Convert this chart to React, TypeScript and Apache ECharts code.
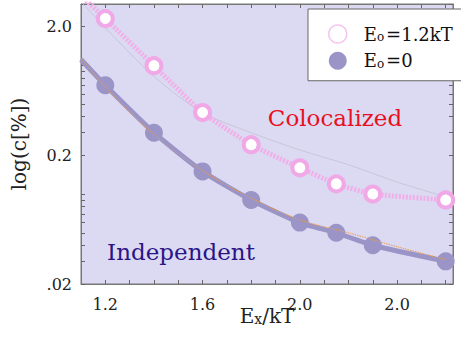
import React, { useEffect, useRef } from "react";
import * as echarts from "echarts";

const xValues = [1.2, 1.4, 1.6, 1.8, 2.0, 2.15, 2.3, 2.6];
const colocalized = [2.31, 0.995, 0.43, 0.242, 0.16, 0.12, 0.1, 0.09];
const independent = [0.7, 0.3, 0.15, 0.09, 0.06, 0.05, 0.04, 0.03];
const edgeX = 1.1;
const colocEdge = 3.5;
const indepEdge = 1.11;
const fitX = [1.1, 1.2, 1.4, 1.6, 1.8, 2.0, 2.2, 2.4, 2.6];
const colocFit = [3.13, 1.96, 0.82, 0.43, 0.3, 0.22, 0.169, 0.124, 0.095];
const indepFit = [1.14, 0.68, 0.29, 0.152, 0.093, 0.063, 0.05, 0.039, 0.031];

const xTickValues = [1.2, 1.6, 2.0, 2.4];
const xTickLabels = ["1.2", "1.6", "2.0", "2.0"];
const xMinorTicks = [1.2, 1.3, 1.4, 1.5, 1.6, 1.7, 1.8, 1.9, 2.0, 2.1, 2.2, 2.3, 2.4, 2.5, 2.6];
const yTickValues = [0.02, 0.2, 2];
const yTickLabels = [".02", "0.2", "2.0"];
const yMinorTicks = [0.02, 0.03, 0.04, 0.05, 0.06, 0.07, 0.08, 0.09, 0.1, 0.2, 0.3, 0.4, 0.5, 0.6, 0.7, 0.8, 0.9, 1, 2, 3];

const SERIF = "DejaVu Serif";
const PINK = "#f0a8e6";
const PURPLE = "#9a95c6";

export default function App() {
  const ref = useRef<HTMLDivElement>(null);
  useEffect(() => {
    document.body.style.margin = "0";
    if (!ref.current) return;
    const chart = echarts.init(ref.current, null, { renderer: "svg" });
    const axisLine = { show: true, lineStyle: { color: "#777", width: 1 } };
    const tickStyle = { inside: true, length: 4, lineStyle: { color: "#666" } };
    const option: any = {
      animation: false,
      backgroundColor: "#ffffff",
      textStyle: { fontFamily: SERIF },
      grid: {
        left: 81,
        right: 8,
        top: 4,
        bottom: 54,
        containLabel: false,
        outerBoundsMode: "none",
        show: true,
        backgroundColor: "#dcdaf2",
        borderColor: "#777",
        borderWidth: 1,
      },
      legend: {
        left: 308,
        top: 9,
        orient: "vertical",
        backgroundColor: "#ffffff",
        borderColor: "#666",
        borderWidth: 1,
        padding: [13, 40, 11, 20],
        itemGap: 5,
        itemWidth: 18,
        itemHeight: 18,
        data: [
          { name: "coloc", icon: "circle", itemStyle: { color: "#ffffff", borderColor: "#f4c4ee", borderWidth: 1.5 } },
          { name: "indep", icon: "circle", itemStyle: { color: PURPLE, borderWidth: 0 } },
        ],
        formatter: (name: string) =>
          name === "coloc" ? "{e|E}{s|o}{e|=1.2kT}" : "{e|E}{s|o}{e|=0}",
        textStyle: {
          fontFamily: SERIF,
          padding: [0, 0, 0, 12],
          rich: {
            e: { fontFamily: SERIF, fontSize: 18, color: "#111", lineHeight: 18, verticalAlign: "top" },
            s: { fontFamily: SERIF, fontSize: 12, color: "#111", lineHeight: 12, verticalAlign: "bottom", padding: [9, 2, 0, 0] },
          },
        },
      },
      xAxis: [
        {
          type: "value",
          min: 1.1,
          max: 2.63,
          position: "bottom",
          axisLine,
          splitLine: { show: false },
          axisTick: { ...tickStyle, customValues: xMinorTicks },
          axisLabel: {
            customValues: xTickValues,
            formatter: (v: number) => {
              const i = xTickValues.findIndex((t) => Math.abs(t - v) < 1e-6);
              return i >= 0 ? xTickLabels[i] : "";
            },
            fontFamily: SERIF,
            fontSize: 16,
            color: "#222",
            margin: 12,
          },
          name: "{e|E}{s|x}{e|/kT}",
          nameLocation: "middle",
          nameGap: 22,
          nameMoveOverlap: false,
          nameTextStyle: {
            fontFamily: SERIF,
            rich: {
              e: { fontFamily: SERIF, fontSize: 20, color: "#222", lineHeight: 20, verticalAlign: "top" },
              s: { fontFamily: SERIF, fontSize: 14, color: "#222", lineHeight: 14, verticalAlign: "bottom", padding: [12, 0, 0, 0] },
            },
          },
        },
        {
          type: "value",
          min: 1.1,
          max: 2.63,
          position: "top",
          axisLine,
          splitLine: { show: false },
          axisTick: { ...tickStyle, customValues: xMinorTicks },
          axisLabel: { show: false },
        },
      ],
      yAxis: [
        {
          type: "log",
          logBase: 10,
          min: 0.02,
          max: 3.0,
          position: "left",
          axisLine,
          splitLine: { show: false },
          axisTick: { ...tickStyle, customValues: yMinorTicks },
          axisLabel: {
            customValues: yTickValues,
            formatter: (v: number) => {
              const i = yTickValues.findIndex((t) => Math.abs(t - v) / t < 1e-6);
              return i >= 0 ? yTickLabels[i] : "";
            },
            fontFamily: SERIF,
            fontSize: 16,
            color: "#222",
            margin: 9,
          },
          name: "log(c[%])",
          nameLocation: "middle",
          nameGap: 52,
          nameMoveOverlap: false,
          nameTextStyle: { fontFamily: SERIF, fontSize: 20, color: "#222" },
        },
        {
          type: "log",
          logBase: 10,
          min: 0.02,
          max: 3.0,
          position: "right",
          axisLine,
          splitLine: { show: false },
          axisTick: { ...tickStyle, customValues: yMinorTicks },
          axisLabel: { show: false },
        },
      ],
      series: [
        {
          name: "colocFit",
          type: "line",
          data: fitX.map((x, i) => [x, colocFit[i]]),
          showSymbol: false,
          symbol: "none",
          smooth: 0.3,
          lineStyle: { color: "#c8c5d8", width: 1 },
          silent: true,
          z: 1,
        },
        {
          name: "coloc",
          type: "line",
          data: [
            { value: [edgeX, colocEdge], symbol: "none" },
            ...xValues.map((x, i) => [x, colocalized[i]]),
          ],
          symbol: "circle",
          symbolSize: 15,
          smooth: 0.15,
          itemStyle: { color: "#ffffff", borderColor: PINK, borderWidth: 4 },
          lineStyle: { color: "#f2aee8", width: 5, type: [2, 1.5] },
          z: 3,
        },
        {
          name: "indep",
          type: "line",
          data: [
            { value: [edgeX, indepEdge], symbol: "none" },
            ...xValues.map((x, i) => [x, independent[i]]),
          ],
          symbol: "circle",
          symbolSize: 18,
          smooth: 0.2,
          itemStyle: { color: PURPLE },
          lineStyle: { color: PURPLE, width: 5 },
          z: 2,
        },
        {
          name: "indepFit",
          type: "line",
          data: fitX.map((x, i) => [x, indepFit[i]]),
          showSymbol: false,
          symbol: "none",
          smooth: 0.3,
          lineStyle: { color: "#e89a50", width: 1, type: [1.5, 1] },
          silent: true,
          z: 4,
        },
      ],
      graphic: [
        {
          type: "text",
          x: 335,
          y: 118,
          style: {
            text: "Colocalized",
            fontFamily: SERIF,
            fontSize: 23,
            fill: "#e8101e",
            align: "center",
            verticalAlign: "middle",
          },
          z: 10,
        },
        {
          type: "text",
          x: 181,
          y: 252,
          style: {
            text: "Independent",
            fontFamily: SERIF,
            fontSize: 23,
            fill: "#2b1486",
            align: "center",
            verticalAlign: "middle",
          },
          z: 10,
        },
      ],
    };
    chart.setOption(option);
    return () => chart.dispose();
  }, []);
  return <div ref={ref} style={{ width: 461, height: 338 }} />;
}
